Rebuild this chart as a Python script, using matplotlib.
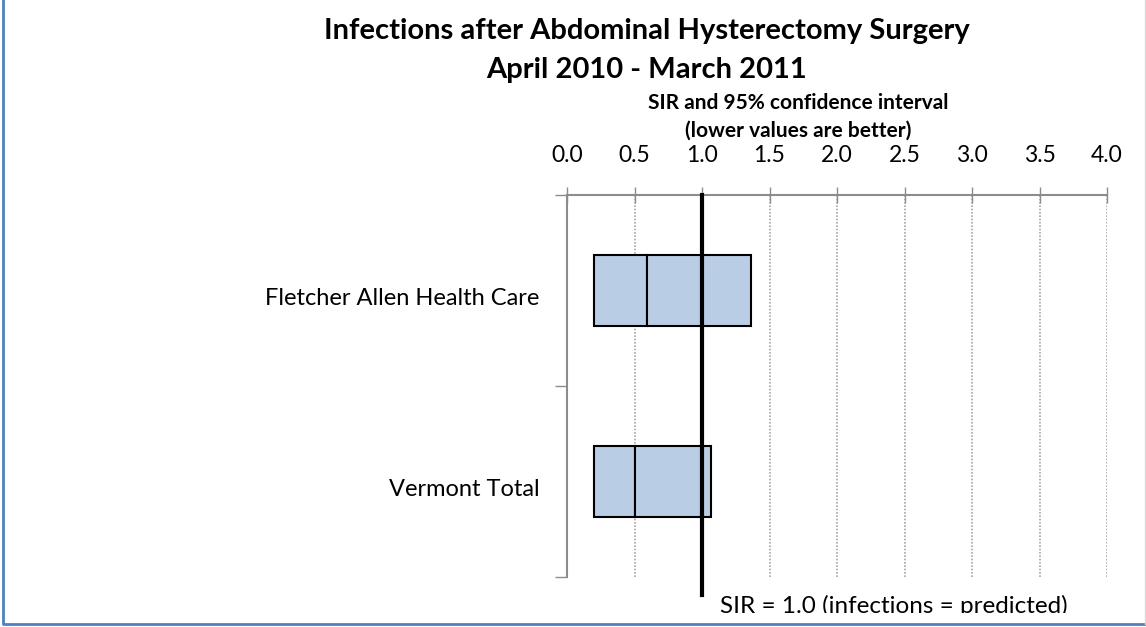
import matplotlib.pyplot as plt
from matplotlib.patches import Rectangle
from matplotlib.lines import Line2D

plt.rcParams['font.family'] = ['Lato', 'DejaVu Sans']

# data
hospitals = ["Fletcher Allen Health Care", "Vermont Total"]
sir = [0.59, 0.50]
ci_low = [0.20, 0.20]
ci_high = [1.36, 1.07]
xticks = [0.0, 0.5, 1.0, 1.5, 2.0, 2.5, 3.0, 3.5, 4.0]

W, H = 1146, 627
fig = plt.figure(figsize=(W / 100, H / 100), dpi=100)

# plot area in pixel units
x0, x1, y0, y1 = 567, 1107, 195, 577
ax = fig.add_axes([x0 / W, 1 - y1 / H, (x1 - x0) / W, (y1 - y0) / H])

pos = [0.5 + i for i in range(len(hospitals))]
fill = "#B9CDE5"
lows = [s - l for s, l in zip(sir, ci_low)]
highs = [h - s for h, s in zip(ci_high, sir)]
ax.barh(pos, lows, left=ci_low, height=0.37, color=fill, edgecolor="black", linewidth=1.5, zorder=3)
ax.barh(pos, highs, left=sir, height=0.37, color=fill, edgecolor="black", linewidth=1.5, zorder=3)

ax.set_xlim(0, 4)
ax.set_ylim(len(hospitals), 0)

# x axis on top
ax.xaxis.tick_top()
ax.set_xticks(xticks)
ax.set_xticklabels([f"{t:.1f}" for t in xticks], fontsize=16.5)
ax.tick_params(axis="x", direction="inout", length=12, width=1, color="#8c8c8c", pad=15)

# y axis: labels between the boundary ticks
ax.set_yticks([p + 0.03 for p in pos])
ax.set_yticklabels(hospitals, fontsize=17)
ax.tick_params(axis="y", length=0, pad=20)
ax.set_yticks(range(len(hospitals) + 1), minor=True)
ax.tick_params(axis="y", which="minor", length=9, width=1, color="#8c8c8c")

for t in xticks[1:]:
    ax.axvline(t, color="#a6a6a6", linestyle=(0, (1, 1)), linewidth=1.2, zorder=1)

for side in ["right", "bottom"]:
    ax.spines[side].set_visible(False)
for side in ["top", "left"]:
    ax.spines[side].set_color("#8c8c8c")
    ax.spines[side].set_linewidth(1.5)

# reference line at SIR = 1
ax.plot([1.0, 1.0], [0, len(hospitals) + 0.094], color="black", linewidth=3, zorder=4, clip_on=False)
ax.text(1.13, len(hospitals) + 0.093, "SIR = 1.0 (infections = predicted)", fontsize=17.5,
        va="top", ha="left", clip_on=False)

fig.text(647 / W, 1 - 31 / H, "Infections after Abdominal Hysterectomy Surgery",
         ha="center", va="center", fontsize=21, fontweight="bold")
fig.text(647 / W, 1 - 70 / H, "April 2010 - March 2011",
         ha="center", va="center", fontsize=21, fontweight="bold")
fig.text(798 / W, 1 - 103 / H, "SIR and 95% confidence interval",
         ha="center", va="center", fontsize=15, fontweight="bold")
fig.text(798 / W, 1 - 131 / H, "(lower values are better)",
         ha="center", va="center", fontsize=15, fontweight="bold")

# frame around the chart (the bottom label is cut off like in the original)
fig.patches.append(Rectangle((0, 0), 1, 1 - 613 / H, transform=fig.transFigure,
                             facecolor="white", edgecolor="none", zorder=10))
fig.lines.append(Line2D([3 / W, 3 / W, 1 - 1 / W], [1, 1 - 624 / H, 1 - 624 / H],
                        transform=fig.transFigure, color="#4F81BD", linewidth=2, zorder=11))
fig.lines.append(Line2D([1 - 1 / W, 1 - 1 / W], [1, 1 - 624 / H],
                        transform=fig.transFigure, color="#d9d9d9", linewidth=1, zorder=11))

fig.savefig("out.png", dpi=100)
